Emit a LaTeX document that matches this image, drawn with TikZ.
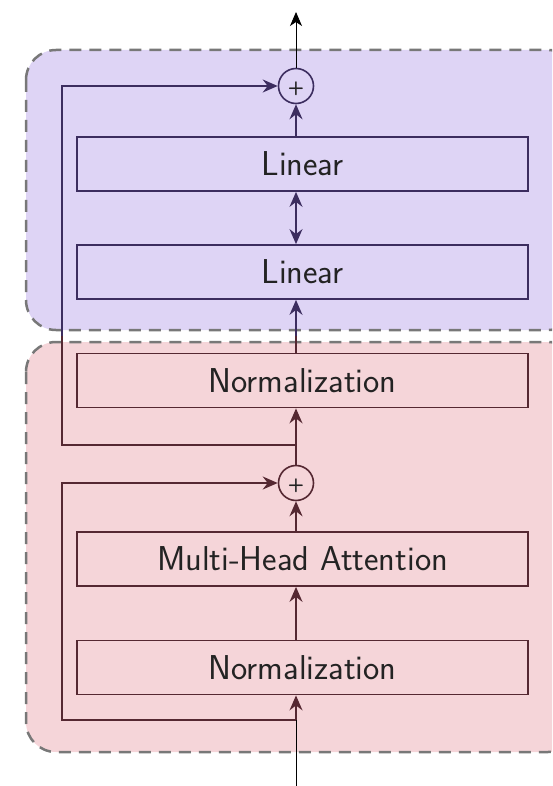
\documentclass[tikz,border=0pt]{standalone}
\usetikzlibrary{arrows.meta,calc}
\definecolor{purplefill}{RGB}{222,212,245}
\definecolor{pinkfill}{RGB}{245,213,217}
\definecolor{purpleline}{RGB}{60,45,95}
\definecolor{pinkline}{RGB}{85,40,50}
\definecolor{txt}{RGB}{35,35,35}
\definecolor{regionborder}{RGB}{120,120,120}
\begin{document}
\begin{tikzpicture}[x=1pt,y=-1pt,
  box/.style={draw, line width=1.8pt, minimum width=451pt, minimum height=54pt, inner sep=0pt,
    font=\sffamily\fontsize{34.5}{40}\selectfont, text=txt},
  adder/.style={circle, draw, line width=1.6pt, minimum size=35pt, inner sep=0pt},
  plustext/.style={font=\sffamily\bfseries\fontsize{19}{19}\selectfont, text=txt, inner sep=0pt},
  tip/.style={-{Stealth[length=15pt,width=13pt,inset=5pt]}},
  conn/.style={line width=1.6pt},
  thinline/.style={line width=0.9pt, black},
  region/.style={draw=regionborder, dash pattern=on 12pt off 8pt, line width=2.5pt, rounded corners=30pt}]
\useasboundingbox (0,0) rectangle (552,786);
\clip (0,0) rectangle (552,786);

% regions
\draw[region, fill=purplefill] (26,50) rectangle (578,330);
\draw[region, fill=pinkfill] (26,342) rectangle (578,752);

% nodes
\node[adder, draw=purpleline] (plus1) at (296,86) {};
\node[plustext] (plus1t) at ($(plus1)+(0,3)$) {+};
\node[box, draw=purpleline] (lin2) at (302.5,164) {Linear};
\node[box, draw=purpleline] (lin1) at (302.5,272) {Linear};
\node[box, draw=pinkline] (norm2) at (302.5,380.5) {Normalization};
\node[adder, draw=pinkline] (plus2) at (296,483) {};
\node[plustext] (plus2t) at ($(plus2)+(0,3)$) {+};
\node[box, draw=pinkline] (mha) at (302.5,559) {Multi-Head Attention};
\node[box, draw=pinkline] (norm1) at (302.5,667.5) {Normalization};

% coordinates
\coordinate (out) at (296,12);
\coordinate (in) at (296,786);
\coordinate (b1) at (296,445);
\coordinate (b2) at (296,720);
\coordinate (gap) at (296,336);
\coordinate (gapres) at (62,336);

% output
\draw[thinline, -{Stealth[length=14pt,width=12pt,inset=4pt]}] (plus1.north) -- (out);

% purple block
\draw[conn, purpleline, tip] (lin2.north -| plus1) -- (plus1.south);
\draw[conn, purpleline, {Stealth[length=15pt,width=13pt,inset=5pt]}-{Stealth[length=15pt,width=13pt,inset=5pt]}] (lin1.north -| plus1) -- (lin2.south -| plus1);
\draw[conn, pinkline] (norm2.north -| plus1) -- (gap);
\draw[conn, purpleline, tip] (gap) -- (lin1.south -| plus1);

% residual 1
\draw[conn, pinkline, tip] (plus2.north) -- (norm2.south -| plus2);
\draw[conn, pinkline] (b1) -| (gapres);
\draw[conn, purpleline, tip] (gapres) |- (plus1.west);

% pink block
\draw[conn, pinkline, tip] (mha.north -| plus2) -- (plus2.south);
\draw[conn, pinkline, tip] (norm1.north -| plus2) -- (mha.south -| plus2);

% input and residual 2
\draw[thinline] (in) -- (b2);
\draw[conn, pinkline, tip] (b2) -- (norm1.south -| plus2);
\draw[conn, pinkline, tip] (b2) -| ($(plus2.west -| gapres)$) -- (plus2.west);
\end{tikzpicture}
\end{document}
